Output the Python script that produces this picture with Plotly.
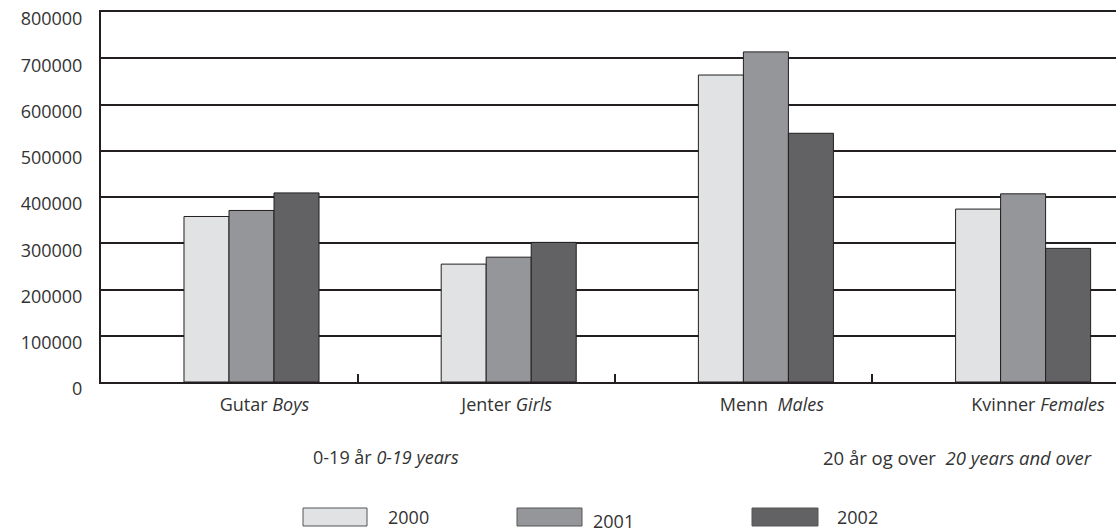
import plotly.graph_objects as go

# ---- data ----
categories = ["Gutar <i>Boys</i>", "Jenter <i>Girls</i>", "Menn\u00a0 <i>Males</i>", "Kvinner <i>Females</i>"]
years = ["2000", "2001", "2002"]
v2000 = [358000, 255000, 664000, 374000]
v2001 = [371000, 270000, 714000, 407000]
v2002 = [409000, 302000, 538000, 289000]
y_ticks = [0, 100000, 200000, 300000, 400000, 500000, 600000, 700000, 800000]
group_notes = ["0-19 år <i>0-19 years</i>", "20 år og over\u00a0 <i>20 years and over</i>"]

series = [v2000, v2001, v2002]
colors = ["#e1e2e4", "#959699", "#626264"]
INK = "#231f20"
TXT = "#333333"
FONT = "Open Sans"

W, H = 1116, 528
ML, MR, MT, MB = 101, 0, 12, 146
PW, PH = W - ML - MR, H - MT - MB
GROUP_PX = 257.2          # pixel spacing between category groups
FIRST_CENTER_PX = 251.5   # pixel centre of first group


def px(x):
    return (x - ML) / PW


def py(y):
    return (H - MB - y) / PH


xs = list(range(len(categories)))
label_nudge_px = [13, -2, 6, 15]
label_pos = [i + d / GROUP_PX for i, d in zip(xs, label_nudge_px)]

fig = go.Figure()
for name, vals, col in zip(years, series, colors):
    fig.add_trace(go.Bar(
        x=xs, y=vals, name=name,
        marker=dict(color=col, line=dict(color=INK, width=1)),
        showlegend=False,
    ))

shapes = []
annotations = []

# manual legend
legend_boxes = [(303, 367), (517, 582), (752, 818)]
legend_label_x = [386, 591, 835]
legend_label_y = [517, 521, 517]
for (x0, x1), lx, ly, col, name in zip(legend_boxes, legend_label_x, legend_label_y, colors, years):
    shapes.append(dict(type="rect", xref="paper", yref="paper",
                       x0=px(x0), x1=px(x1), y0=py(526), y1=py(508),
                       fillcolor=col, line=dict(color="#555555", width=1)))
    annotations.append(dict(xref="paper", yref="paper", x=px(lx), y=py(ly),
                            xanchor="left", yanchor="middle", showarrow=False,
                            text=name, font=dict(family=FONT, size=18, color=TXT)))

# group notes
annotations.append(dict(xref="paper", yref="paper", x=px(386), y=py(457),
                        xanchor="center", yanchor="middle", showarrow=False,
                        text=group_notes[0], font=dict(family=FONT, size=18, color=TXT)))
annotations.append(dict(xref="paper", yref="paper", x=px(821), y=py(457),
                        xanchor="left", yanchor="middle", showarrow=False,
                        text=group_notes[1], font=dict(family=FONT, size=18.5, color=TXT)))

fig.update_layout(
    width=W, height=H,
    margin=dict(l=ML, r=MR, t=MT, b=MB, pad=0),
    paper_bgcolor="white", plot_bgcolor="white",
    barmode="group", bargap=0.475, bargroupgap=0,
    font=dict(family=FONT, size=18, color=TXT),
    shapes=shapes, annotations=annotations,
    xaxis=dict(
        range=[(ML - FIRST_CENTER_PX) / GROUP_PX, (W - FIRST_CENTER_PX) / GROUP_PX],
        tickmode="array", tickvals=label_pos, ticktext=categories,
        ticks="", showgrid=False, zeroline=False,
        showline=True, linecolor=INK, linewidth=2, mirror=True,
        tickfont=dict(family=FONT, size=18, color=TXT),
        ticklabelstandoff=5,
        minor=dict(tickmode="array", tickvals=[0.413, 1.413, 2.413],
                   ticks="inside", ticklen=8, tickwidth=2, tickcolor=INK, showgrid=False),
    ),
    yaxis=dict(
        range=[0, 800300],
        tickmode="array", tickvals=y_ticks, ticktext=[str(v) for v in y_ticks],
        showgrid=True, gridcolor=INK, gridwidth=2,
        zeroline=False, showline=True, linecolor=INK, linewidth=2,
        ticks="", tickfont=dict(family=FONT, size=18, color=TXT),
        ticklabelstandoff=13, ticklabelshift=7,
    ),
)

fig.write_html("out.html", config={"displayModeBar": False},
               post_script="document.body.style.margin='0';document.body.style.padding='0';")
